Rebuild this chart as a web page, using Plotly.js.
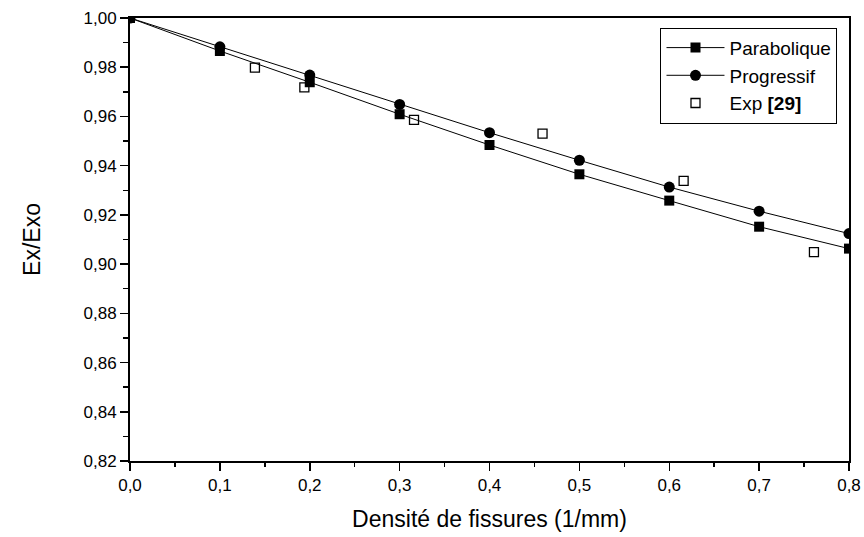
<!DOCTYPE html>
<html>
<head>
<meta charset="utf-8">
<script src="https://cdn.plot.ly/plotly-3.0.1.min.js"></script>
<style>html,body{margin:0;padding:0;background:#fff;}#chart{width:864px;height:537px;}</style>
</head>
<body>
<div id="chart"></div>
<script>
const densite = [0.0, 0.1, 0.2, 0.3, 0.4, 0.5, 0.6, 0.7, 0.8];
const parabolique = [1.000, 0.9866, 0.9739, 0.9609, 0.9484, 0.9365, 0.9258, 0.9152, 0.9063];
const progressif = [1.000, 0.9883, 0.9768, 0.9649, 0.9534, 0.9422, 0.9313, 0.9215, 0.9124];
const expX = [0.139, 0.194, 0.316, 0.459, 0.616, 0.761];
const expY = [0.9798, 0.9718, 0.9586, 0.9530, 0.9338, 0.9049];
const names = ['Parabolique', 'Progressif', 'Exp <b>[29]</b>'];

const font = 'Arial, "Liberation Sans", sans-serif';

const traces = [
  {x: densite, y: parabolique, name: names[0], mode: 'lines+markers',
   line: {color: '#000', width: 1},
   marker: {symbol: 'square', size: 10, color: '#000'}},
  {x: densite, y: progressif, name: names[1], mode: 'lines+markers',
   line: {color: '#000', width: 1},
   marker: {symbol: 'circle', size: 11, color: '#000'}},
  {x: expX, y: expY, name: names[2], mode: 'markers',
   marker: {symbol: 'square-open', size: 9, color: '#000', line: {width: 1.3, color: '#000'}}}
];

const layout = {
  width: 864, height: 537,
  margin: {l: 130, r: 15, t: 18, b: 76},
  paper_bgcolor: '#fff', plot_bgcolor: '#fff',
  separators: ',.',
  font: {family: font, color: '#000', size: 17},
  showlegend: true,
  legend: {
    x: 0.984, xanchor: 'right', y: 0.978, yanchor: 'top',
    bordercolor: '#000', borderwidth: 1, bgcolor: '#fff',
    font: {family: font, size: 19, color: '#000'},
    itemwidth: 58, tracegroupgap: 0
  },
  xaxis: {
    range: [0, 0.8], dtick: 0.1, tick0: 0, tickformat: '.1f',
    showgrid: false, zeroline: false,
    showline: true, linecolor: '#000', linewidth: 2, mirror: true,
    ticks: 'outside', ticklen: 8, tickwidth: 1.5, tickcolor: '#000',
    minor: {dtick: 0.05, ticks: 'outside', ticklen: 4, tickwidth: 1.5, tickcolor: '#000', showgrid: false},
    tickfont: {family: font, size: 17, color: '#000'},
    title: {text: 'Densité de fissures (1/mm)', font: {family: font, size: 23, color: '#000'}, standoff: 16}
  },
  yaxis: {
    range: [0.82, 1.0], dtick: 0.02, tick0: 0.82, tickformat: '.2f',
    showgrid: false, zeroline: false,
    showline: true, linecolor: '#000', linewidth: 2, mirror: true,
    ticks: 'outside', ticklen: 8, tickwidth: 1.5, tickcolor: '#000',
    minor: {dtick: 0.01, ticks: 'outside', ticklen: 5, tickwidth: 1.5, tickcolor: '#000', showgrid: false},
    tickfont: {family: font, size: 17, color: '#000'},
    title: {text: 'Ex/Exo', font: {family: font, size: 23, color: '#000'}, standoff: 36}
  }
};

Plotly.newPlot('chart', traces, layout, {displayModeBar: false, staticPlot: true});
</script>
</body>
</html>
